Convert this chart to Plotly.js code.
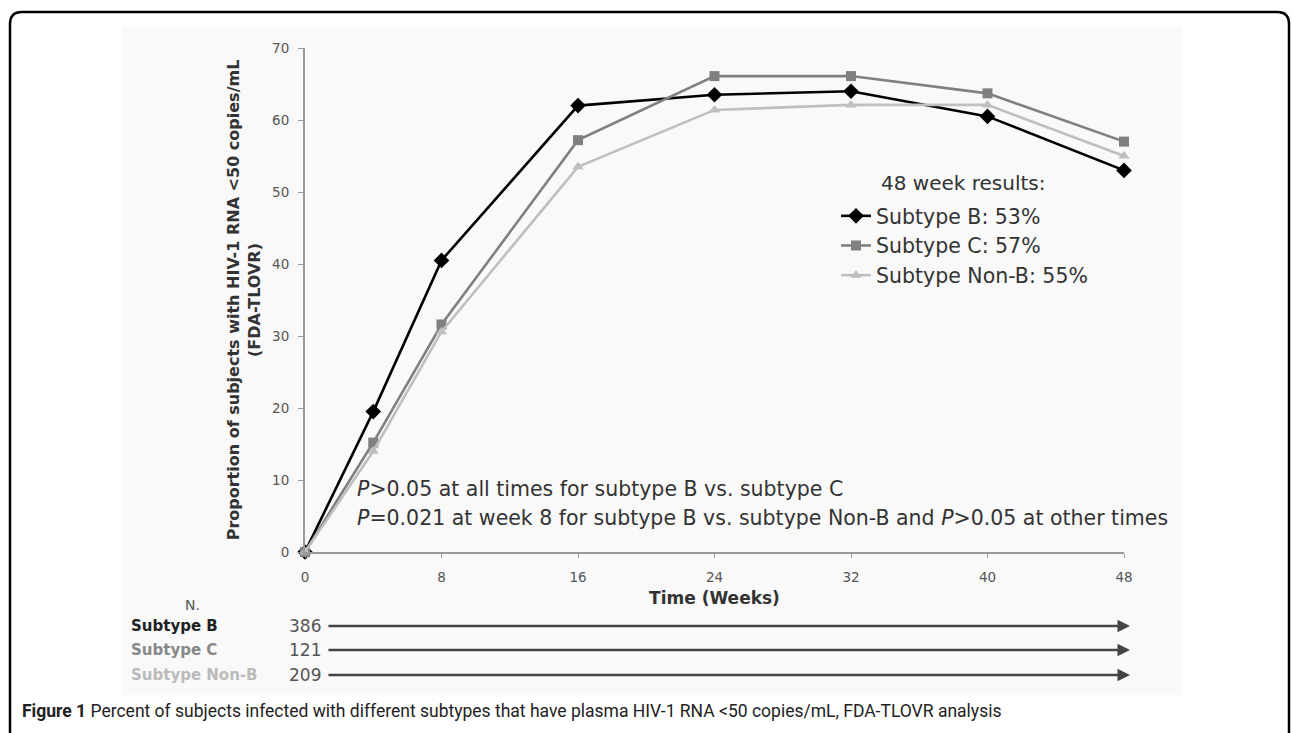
<!DOCTYPE html>
<html><head><meta charset="utf-8">
<script src="https://cdn.plot.ly/plotly-3.0.1.min.js"></script>
<style>html,body{margin:0;padding:0;background:#fff}#chart{width:1293px;height:733px}</style>
</head><body><div id="chart"></div>
<script>
// ---- data ----
const weeks = [0, 4, 8, 16, 24, 32, 40, 48];
const subtypeB = [0, 19.5, 40.5, 62.0, 63.5, 64.0, 60.5, 53];
const subtypeC = [0, 15.2, 31.6, 57.2, 66.1, 66.1, 63.7, 57];
const subtypeNonB = [0, 14.0, 30.6, 53.5, 61.4, 62.1, 62.1, 55];
const seriesNames = ['Subtype B: 53%', 'Subtype C: 57%', 'Subtype Non-B: 55%'];
const tableLabels = ['Subtype B', 'Subtype C', 'Subtype Non-B'];
const tableN = ['386', '121', '209'];
const xTicks = [0, 8, 16, 24, 32, 40, 48];
const yTicks = [0, 10, 20, 30, 40, 50, 60, 70];

// ---- layout geometry ----
const W = 1293, H = 733;
const L = 305, R = 1124, T = 48, B = 552;
const px = x => (x - L) / (R - L);
const py = y => (B - y) / (B - T);
const FONT = 'DejaVu Sans, Liberation Sans, Arial, sans-serif';

const colors = ['#000000', '#808080', '#bfbfbf'];
const symbols = ['diamond', 'square', 'triangle-up'];
const sizes = [12, 10, 10];
const series = [subtypeB, subtypeC, subtypeNonB];

const traces = series.map((s, i) => ({
  x: weeks, y: s, type: 'scatter', mode: 'lines+markers',
  name: seriesNames[i],
  line: {color: colors[i], width: 2.6},
  marker: {color: colors[i], symbol: symbols[i], size: sizes[i]},
  cliponaxis: false
}));

const annotations = [];
// legend title
annotations.push({xref: 'paper', yref: 'paper', x: px(879), y: py(183), xanchor: 'left', yanchor: 'middle',
  text: '48 week results:', showarrow: false, font: {family: FONT, size: 20, color: '#333'}});
// p-value notes
annotations.push({xref: 'paper', yref: 'paper', x: px(355), y: py(489), xanchor: 'left', yanchor: 'middle',
  text: '<i>P</i>>0.05 at all times for subtype B vs. subtype C', showarrow: false,
  font: {family: FONT, size: 20.5, color: '#333'}});
annotations.push({xref: 'paper', yref: 'paper', x: px(355), y: py(518), xanchor: 'left', yanchor: 'middle',
  text: '<i>P</i>=0.021 at week 8 for subtype B vs. subtype Non-B and <i>P</i>>0.05 at other times', showarrow: false,
  font: {family: FONT, size: 20.5, color: '#333'}});
// N table
annotations.push({xref: 'paper', yref: 'paper', x: px(192), y: py(605), xanchor: 'center', yanchor: 'middle',
  text: 'N.', showarrow: false, font: {family: FONT, size: 14, color: '#555'}});
const rowY = [626, 650, 675];
const labelColors = ['#222', '#888', '#bbb'];
tableLabels.forEach((lab, i) => {
  annotations.push({xref: 'paper', yref: 'paper', x: px(129), y: py(rowY[i]), xanchor: 'left', yanchor: 'middle',
    text: '<b>' + lab + '</b>', showarrow: false, font: {family: FONT, size: 15, color: labelColors[i]}});
  annotations.push({xref: 'paper', yref: 'paper', x: px(323), y: py(rowY[i]), xanchor: 'right', yanchor: 'middle',
    text: tableN[i], showarrow: false, font: {family: FONT, size: 17, color: '#555'}});
  annotations.push({xref: 'paper', yref: 'paper', x: px(1130), y: py(rowY[i]), text: '', showarrow: true,
    axref: 'pixel', ayref: 'pixel', ax: -(1130 - 327), ay: 0, arrowhead: 2, arrowsize: 1, arrowwidth: 2.5,
    arrowcolor: '#444', standoff: 0, startstandoff: 0});
});
// caption
annotations.push({xref: 'paper', yref: 'paper', x: px(20), y: py(711), xanchor: 'left', yanchor: 'middle',
  text: '<b>Figure 1</b> Percent of subjects infected with different subtypes that have plasma HIV-1 RNA <50 copies/mL, FDA-TLOVR analysis',
  showarrow: false, font: {family: 'Liberation Sans Narrow, Roboto, sans-serif', size: 17.5, color: '#222'}});

// frame shapes
const lx = px(10), rx = px(1289), ty = py(12), by = py(760);
const cx = 12 / (R - L), cy = 12 / (B - T);
const shapes = [
  {type: 'rect', xref: 'paper', yref: 'paper', x0: px(122), x1: px(1182), y0: py(695), y1: py(27),
   fillcolor: '#f9f9f9', line: {width: 0}, layer: 'below'},
  {type: 'path', xref: 'paper', yref: 'paper', layer: 'above',
   path: `M ${lx},${by} L ${lx},${ty - cy} Q ${lx},${ty} ${lx + cx},${ty} L ${rx - cx},${ty} Q ${rx},${ty} ${rx},${ty - cy} L ${rx},${by}`,
   line: {color: '#000', width: 2.5}}
];

const layout = {
  width: W, height: H,
  margin: {l: L, r: W - R, t: T, b: H - B, pad: 0},
  paper_bgcolor: '#ffffff', plot_bgcolor: 'rgba(0,0,0,0)',
  showlegend: true,
  legend: {x: px(836), y: py(196), xanchor: 'left', yanchor: 'top', bgcolor: 'rgba(0,0,0,0)',
    font: {family: FONT, size: 20.5, color: '#333'}, tracegroupgap: 0},
  xaxis: {range: [0, 48], tickvals: xTicks, ticktext: xTicks.map(String), showgrid: false, zeroline: false,
    showline: true, linecolor: '#999', linewidth: 2, ticks: 'outside', ticklen: 4, tickcolor: '#999',
    tickfont: {family: FONT, size: 13.5, color: '#555'}, ticklabelstandoff: 8,
    title: {text: '<b>Time (Weeks)</b>', font: {family: FONT, size: 17, color: '#333'}, standoff: 8}},
  yaxis: {range: [0, 70], tickvals: yTicks, showgrid: false, zeroline: false,
    showline: true, linecolor: '#999', linewidth: 2, ticks: 'outside', ticklen: 5, tickcolor: '#999',
    tickfont: {family: FONT, size: 13.5, color: '#555'}, ticklabelstandoff: 6,
    title: {text: '<b>Proportion of subjects with HIV-1 RNA <50 copies/mL<br>(FDA-TLOVR)</b>',
      font: {family: FONT, size: 16, color: '#333'}, standoff: 8}},
  annotations: annotations,
  shapes: shapes
};

Plotly.newPlot('chart', traces, layout, {displayModeBar: false, staticPlot: true});
</script>
</body></html>
